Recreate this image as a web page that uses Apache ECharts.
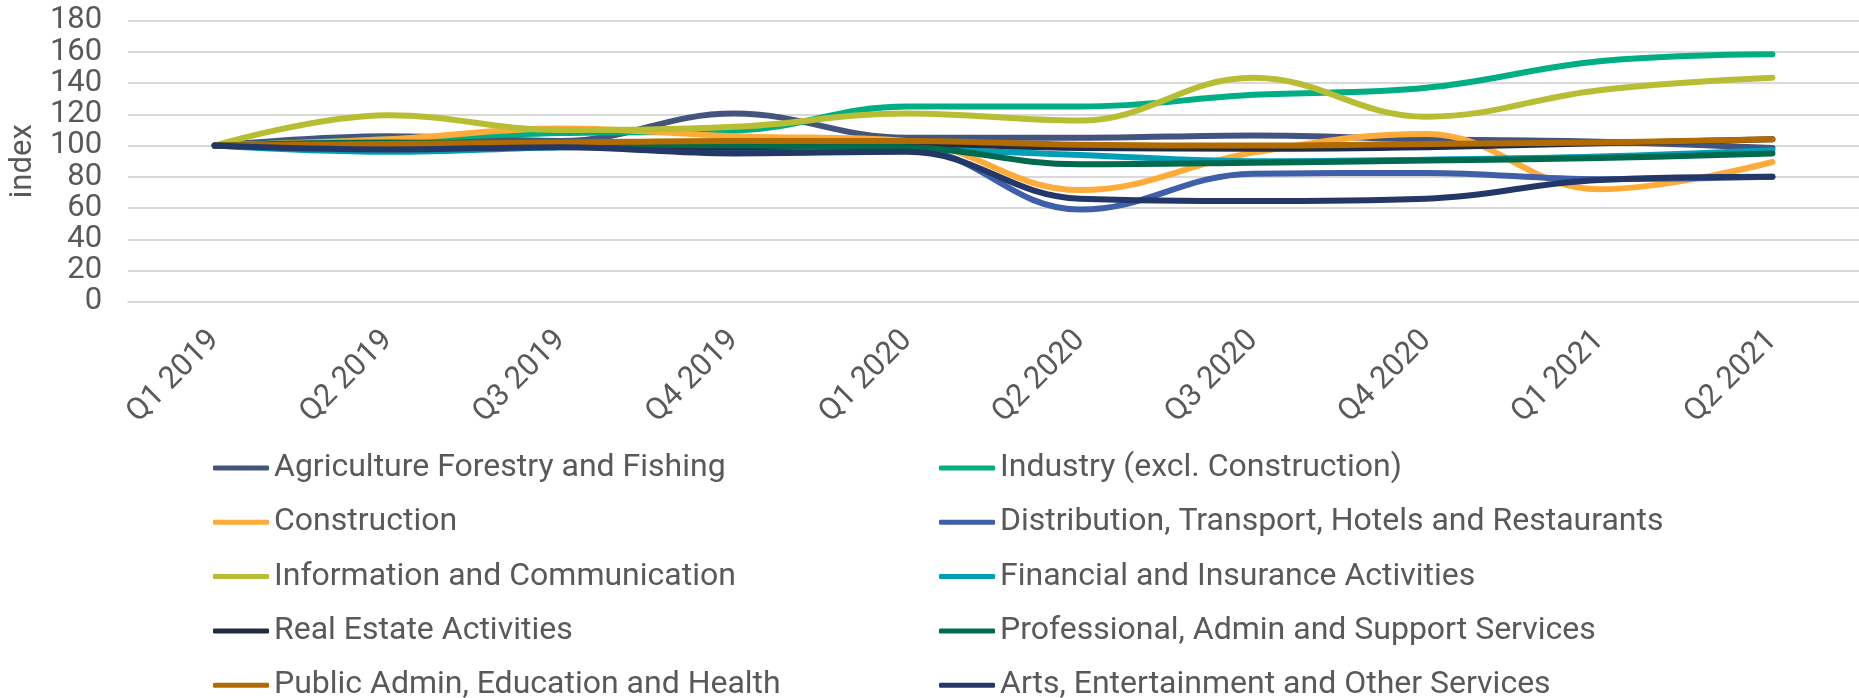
<!DOCTYPE html>
<html>
<head>
<meta charset="utf-8">
<title>Sector index</title>
<script src="https://cdn.jsdelivr.net/npm/echarts@6/dist/echarts.min.js"></script>
<style>
  html, body { margin: 0; padding: 0; background: #fff; }
  #chart { width: 1859px; height: 698px; }
</style>
</head>
<body>
<div id="chart"></div>
<script>
const categories = ['Q1 2019', 'Q2 2019', 'Q3 2019', 'Q4 2019', 'Q1 2020', 'Q2 2020', 'Q3 2020', 'Q4 2020', 'Q1 2021', 'Q2 2021'];

const agriculture = [100, 106, 103, 120.5, 105, 105, 106.5, 104, 102.5, 98.5];
const industry = [100, 104, 108, 109.5, 125, 125, 132.5, 137, 154, 158.5];
const construction = [100, 104, 111, 106, 103, 71.5, 95.5, 107.5, 72, 89.5];
const distribution = [100, 101, 100, 97, 98, 59, 82, 82.5, 78.5, 80];
const information = [100, 119.5, 110, 112, 120.5, 116, 143.5, 118.5, 135.5, 143.5];
const financial = [100, 96, 99, 100, 98, 94, 90, 91, 93, 97];
const realEstate = [100, 99.5, 100, 99, 101, 98.5, 98, 99, 101.5, 104];
const professional = [100, 102, 101, 100, 99, 88, 89, 90.5, 92, 95];
const publicAdmin = [100, 101, 102, 103, 103, 100.5, 100, 101, 102, 104];
const arts = [100, 97.5, 99, 95, 96, 66, 64.5, 66, 78, 80];

const yTicks = { min: 0, max: 180, step: 20 };

const names = [
  'Agriculture Forestry and Fishing',
  'Industry (excl. Construction)',
  'Construction',
  'Distribution, Transport, Hotels and Restaurants',
  'Information and Communication',
  'Financial and Insurance Activities',
  'Real Estate Activities',
  'Professional, Admin and Support Services',
  'Public Admin, Education and Health',
  'Arts, Entertainment and Other Services',
];
const values = [agriculture, industry, construction, distribution, information,
  financial, realEstate, professional, publicAdmin, arts];
const colors = ['#43557f', '#00ae84', '#ffab39', '#3f5faa', '#b8be33',
  '#009fb5', '#222b45', '#006a4e', '#b26b00', '#243868'];

const textColor = '#595959';
const fontFamily = 'Roboto, "Noto Sans", sans-serif';

const series = [];
for (let i = 0; i < names.length; i += 1) {
  series.push({
    name: names[i],
    type: 'line',
    data: values[i],
    smooth: 0.4,
    symbol: 'none',
    color: colors[i],
    lineStyle: { width: 6, cap: 'round', join: 'round' },
  });
}

const legendBase = {
  orient: 'vertical',
  icon: 'roundRect',
  itemWidth: 56,
  itemHeight: 5,
  itemGap: 22.3,
  top: 452,
  height: 300,
  padding: 0,
  textStyle: { color: textColor, fontSize: 32, fontFamily, lineHeight: 32 },
};

const option = {
  animation: false,
  color: colors,
  grid: { left: 127, top: 20.7, width: 1737, height: 281 },
  legend: [
    Object.assign({}, legendBase, { left: 213, data: names.filter((n, i) => i % 2 === 0) }),
    Object.assign({}, legendBase, { left: 939, data: names.filter((n, i) => i % 2 === 1) }),
  ],
  xAxis: {
    type: 'category',
    data: categories,
    boundaryGap: true,
    axisLine: { show: true, lineStyle: { color: '#d9d9d9', width: 2 } },
    axisTick: { show: false },
    axisLabel: { rotate: 45, margin: 34, color: textColor, fontSize: 31, fontFamily },
  },
  yAxis: {
    type: 'value',
    min: yTicks.min,
    max: yTicks.max,
    interval: yTicks.step,
    name: 'index',
    nameLocation: 'middle',
    nameGap: 83,
    nameTextStyle: { color: textColor, fontSize: 31, fontFamily },
    axisLine: { show: false },
    axisTick: { show: false },
    axisLabel: { margin: 26, color: textColor, fontSize: 31, fontFamily },
    splitLine: { lineStyle: { color: '#d9d9d9', width: 2 } },
  },
  series,
};

const myChart = echarts.init(document.getElementById('chart'));
myChart.setOption(option);
</script>
</body>
</html>
